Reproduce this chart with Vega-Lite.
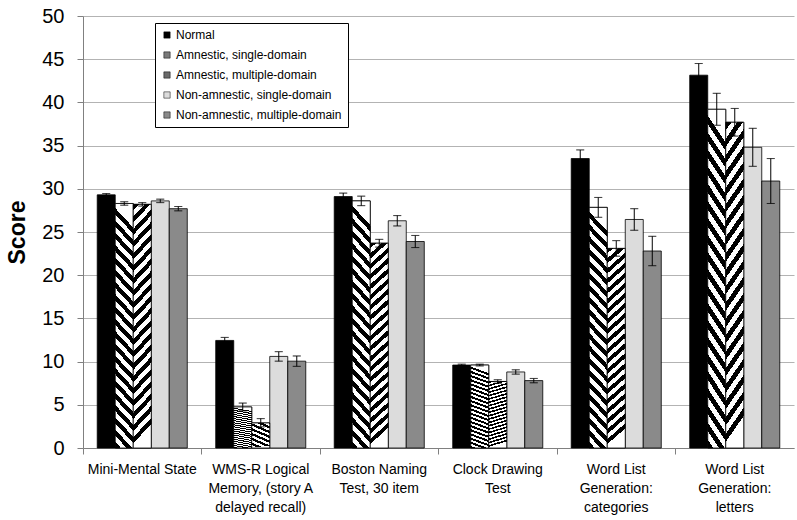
{
  "$schema": "https://vega.github.io/schema/vega-lite/v6.json",
  "width": 711,
  "height": 432,
  "autosize": {"type": "none"},
  "padding": {"left": 83, "top": 16, "right": 3, "bottom": 72},
  "background": "white",
  "config": {
    "view": {"stroke": null},
    "font": "Liberation Sans",
    "axis": {"labelFont": "Liberation Sans", "titleFont": "Liberation Sans", "labelColor": "#000", "titleColor": "#000"},
    "legend": {"labelFont": "Liberation Sans"}
  },
  "data": {
    "values": [
      {"test": "Mini-Mental State", "group": "Normal", "value": 29.3, "lo": 29.15, "hi": 29.45},
      {"test": "Mini-Mental State", "group": "Amnestic, single-domain", "value": 28.3, "lo": 28.1, "hi": 28.5},
      {"test": "Mini-Mental State", "group": "Amnestic, multiple-domain", "value": 28.2, "lo": 28.0, "hi": 28.4},
      {"test": "Mini-Mental State", "group": "Non-amnestic, single-domain", "value": 28.6, "lo": 28.4, "hi": 28.8},
      {"test": "Mini-Mental State", "group": "Non-amnestic, multiple-domain", "value": 27.7, "lo": 27.45, "hi": 27.95},
      {"test": "WMS-R Logical|Memory, (story A|delayed recall)", "group": "Normal", "value": 12.45, "lo": 12.1, "hi": 12.8},
      {"test": "WMS-R Logical|Memory, (story A|delayed recall)", "group": "Amnestic, single-domain", "value": 4.75, "lo": 4.3, "hi": 5.2},
      {"test": "WMS-R Logical|Memory, (story A|delayed recall)", "group": "Amnestic, multiple-domain", "value": 2.9, "lo": 2.45, "hi": 3.4},
      {"test": "WMS-R Logical|Memory, (story A|delayed recall)", "group": "Non-amnestic, single-domain", "value": 10.6, "lo": 10.05, "hi": 11.15},
      {"test": "WMS-R Logical|Memory, (story A|delayed recall)", "group": "Non-amnestic, multiple-domain", "value": 10.05, "lo": 9.45, "hi": 10.65},
      {"test": "Boston Naming|Test, 30 item", "group": "Normal", "value": 29.1, "lo": 28.7, "hi": 29.5},
      {"test": "Boston Naming|Test, 30 item", "group": "Amnestic, single-domain", "value": 28.6, "lo": 28.05, "hi": 29.15},
      {"test": "Boston Naming|Test, 30 item", "group": "Amnestic, multiple-domain", "value": 23.7, "lo": 23.25, "hi": 24.15},
      {"test": "Boston Naming|Test, 30 item", "group": "Non-amnestic, single-domain", "value": 26.3, "lo": 25.7, "hi": 26.9},
      {"test": "Boston Naming|Test, 30 item", "group": "Non-amnestic, multiple-domain", "value": 23.9, "lo": 23.2, "hi": 24.6},
      {"test": "Clock Drawing|Test", "group": "Normal", "value": 9.6, "lo": 9.5, "hi": 9.7},
      {"test": "Clock Drawing|Test", "group": "Amnestic, single-domain", "value": 9.6, "lo": 9.5, "hi": 9.7},
      {"test": "Clock Drawing|Test", "group": "Amnestic, multiple-domain", "value": 7.7, "lo": 7.5, "hi": 7.9},
      {"test": "Clock Drawing|Test", "group": "Non-amnestic, single-domain", "value": 8.8, "lo": 8.55, "hi": 9.05},
      {"test": "Clock Drawing|Test", "group": "Non-amnestic, multiple-domain", "value": 7.8, "lo": 7.55, "hi": 8.05},
      {"test": "Word List|Generation:|categories", "group": "Normal", "value": 33.5, "lo": 32.5, "hi": 34.5},
      {"test": "Word List|Generation:|categories", "group": "Amnestic, single-domain", "value": 27.85, "lo": 26.7, "hi": 29.0},
      {"test": "Word List|Generation:|categories", "group": "Amnestic, multiple-domain", "value": 23.1, "lo": 22.2, "hi": 24.0},
      {"test": "Word List|Generation:|categories", "group": "Non-amnestic, single-domain", "value": 26.45, "lo": 25.2, "hi": 27.7},
      {"test": "Word List|Generation:|categories", "group": "Non-amnestic, multiple-domain", "value": 22.8, "lo": 21.1, "hi": 24.5},
      {"test": "Word List|Generation:|letters", "group": "Normal", "value": 43.15, "lo": 41.8, "hi": 44.5},
      {"test": "Word List|Generation:|letters", "group": "Amnestic, single-domain", "value": 39.2, "lo": 37.35, "hi": 41.05},
      {"test": "Word List|Generation:|letters", "group": "Amnestic, multiple-domain", "value": 37.7, "lo": 36.1, "hi": 39.3},
      {"test": "Word List|Generation:|letters", "group": "Non-amnestic, single-domain", "value": 34.8, "lo": 32.6, "hi": 37.0},
      {"test": "Word List|Generation:|letters", "group": "Non-amnestic, multiple-domain", "value": 30.9, "lo": 28.3, "hi": 33.5}
    ]
  },
  "encoding": {
    "x": {
      "field": "test",
      "type": "nominal",
      "scale": {
        "domain": ["Mini-Mental State", "WMS-R Logical|Memory, (story A|delayed recall)", "Boston Naming|Test, 30 item", "Clock Drawing|Test", "Word List|Generation:|categories", "Word List|Generation:|letters"],
        "paddingInner": 0,
        "paddingOuter": 0
      },
      "axis": {
        "title": null,
        "labelAngle": 0,
        "labelFontSize": 14,
        "labelLineHeight": 19,
        "labelPadding": 8,
        "labelOverlap": false,
        "labelLimit": 300,
        "labelBound": false,
        "labelExpr": "split(datum.label, '|')",
        "bandPosition": 0,
        "tickSize": 6,
        "tickColor": "#808080",
        "domainColor": "#808080",
        "grid": false
      }
    },
    "xOffset": {
      "field": "group",
      "type": "nominal",
      "scale": {
        "domain": ["Normal", "Amnestic, single-domain", "Amnestic, multiple-domain", "Non-amnestic, single-domain", "Non-amnestic, multiple-domain"],
        "paddingInner": 0,
        "paddingOuter": 0.79
      }
    }
  },
  "layer": [
    {
      "mark": {"type": "bar", "stroke": "#000", "strokeWidth": 0.8},
      "encoding": {
        "y": {
          "field": "value",
          "type": "quantitative",
          "scale": {"domain": [0, 50], "nice": false},
          "axis": {
            "title": "Score",
            "titleFontSize": 23,
            "titleFontWeight": "bold",
            "titlePadding": 12,
            "values": [0, 5, 10, 15, 20, 25, 30, 35, 40, 45, 50],
            "labelFontSize": 20,
            "labelPadding": 13,
            "tickSize": 6,
            "tickColor": "#808080",
            "domainColor": "#808080",
            "grid": true,
            "gridColor": "#b3b3b3",
            "gridWidth": 1
          }
        },
        "color": {
          "field": "group",
          "type": "nominal",
          "scale": {
            "domain": ["Normal", "Amnestic, single-domain", "Amnestic, multiple-domain", "Non-amnestic, single-domain", "Non-amnestic, multiple-domain"],
            "range": ["#000000", "#7a7a7a", "#6a6a6a", "#dcdcdc", "#8a8a8a"]
          },
          "legend": {
            "title": null,
            "orient": "none",
            "legendX": 72,
            "legendY": 7,
            "direction": "vertical",
            "fillColor": "#ffffff",
            "strokeColor": "#000000",
            "padding": 6,
            "rowPadding": 8,
            "symbolType": "square",
            "symbolSize": 40,
            "symbolStrokeColor": "#000",
            "symbolStrokeWidth": 0.5,
            "labelFontSize": 12,
            "labelColor": "#000",
            "labelOffset": 3,
            "labelLimit": 300
          }
        }
      }
    },
    {
      "transform": [{"filter": "datum.group === 'Amnestic, single-domain'"}],
      "mark": {"type": "bar", "stroke": "#000", "strokeWidth": 0.8,
        "fill": {"gradient": "linear", "x1": 0, "y1": 1, "x2": 0.08, "y2": 0, "stops": [
          {"offset": 0, "color": "#000"}, {"offset": 0.025, "color": "#000"}, {"offset": 0.025, "color": "#fff"}, {"offset": 0.05, "color": "#fff"},
          {"offset": 0.05, "color": "#000"}, {"offset": 0.075, "color": "#000"}, {"offset": 0.075, "color": "#fff"}, {"offset": 0.1, "color": "#fff"},
          {"offset": 0.1, "color": "#000"}, {"offset": 0.125, "color": "#000"}, {"offset": 0.125, "color": "#fff"}, {"offset": 0.15, "color": "#fff"},
          {"offset": 0.15, "color": "#000"}, {"offset": 0.175, "color": "#000"}, {"offset": 0.175, "color": "#fff"}, {"offset": 0.2, "color": "#fff"},
          {"offset": 0.2, "color": "#000"}, {"offset": 0.225, "color": "#000"}, {"offset": 0.225, "color": "#fff"}, {"offset": 0.25, "color": "#fff"},
          {"offset": 0.25, "color": "#000"}, {"offset": 0.275, "color": "#000"}, {"offset": 0.275, "color": "#fff"}, {"offset": 0.3, "color": "#fff"},
          {"offset": 0.3, "color": "#000"}, {"offset": 0.325, "color": "#000"}, {"offset": 0.325, "color": "#fff"}, {"offset": 0.35, "color": "#fff"},
          {"offset": 0.35, "color": "#000"}, {"offset": 0.375, "color": "#000"}, {"offset": 0.375, "color": "#fff"}, {"offset": 0.4, "color": "#fff"},
          {"offset": 0.4, "color": "#000"}, {"offset": 0.425, "color": "#000"}, {"offset": 0.425, "color": "#fff"}, {"offset": 0.45, "color": "#fff"},
          {"offset": 0.45, "color": "#000"}, {"offset": 0.475, "color": "#000"}, {"offset": 0.475, "color": "#fff"}, {"offset": 0.5, "color": "#fff"},
          {"offset": 0.5, "color": "#000"}, {"offset": 0.525, "color": "#000"}, {"offset": 0.525, "color": "#fff"}, {"offset": 0.55, "color": "#fff"},
          {"offset": 0.55, "color": "#000"}, {"offset": 0.575, "color": "#000"}, {"offset": 0.575, "color": "#fff"}, {"offset": 0.6, "color": "#fff"},
          {"offset": 0.6, "color": "#000"}, {"offset": 0.625, "color": "#000"}, {"offset": 0.625, "color": "#fff"}, {"offset": 0.65, "color": "#fff"},
          {"offset": 0.65, "color": "#000"}, {"offset": 0.675, "color": "#000"}, {"offset": 0.675, "color": "#fff"}, {"offset": 0.7, "color": "#fff"},
          {"offset": 0.7, "color": "#000"}, {"offset": 0.725, "color": "#000"}, {"offset": 0.725, "color": "#fff"}, {"offset": 0.75, "color": "#fff"},
          {"offset": 0.75, "color": "#000"}, {"offset": 0.775, "color": "#000"}, {"offset": 0.775, "color": "#fff"}, {"offset": 0.8, "color": "#fff"},
          {"offset": 0.8, "color": "#000"}, {"offset": 0.825, "color": "#000"}, {"offset": 0.825, "color": "#fff"}, {"offset": 0.85, "color": "#fff"},
          {"offset": 0.85, "color": "#000"}, {"offset": 0.875, "color": "#000"}, {"offset": 0.875, "color": "#fff"}, {"offset": 0.9, "color": "#fff"},
          {"offset": 0.9, "color": "#000"}, {"offset": 0.925, "color": "#000"}, {"offset": 0.925, "color": "#fff"}, {"offset": 0.95, "color": "#fff"},
          {"offset": 0.95, "color": "#000"}, {"offset": 0.975, "color": "#000"}, {"offset": 0.975, "color": "#fff"}, {"offset": 1, "color": "#fff"}
        ]}},
      "encoding": {
        "y": {"field": "value", "type": "quantitative"}
      }
    },
    {
      "transform": [{"filter": "datum.group === 'Amnestic, multiple-domain'"}],
      "mark": {"type": "bar", "stroke": "#000", "strokeWidth": 0.8,
        "fill": {"gradient": "linear", "x1": 0, "y1": 0, "x2": 0.08, "y2": 1, "stops": [
          {"offset": 0, "color": "#000"}, {"offset": 0.025, "color": "#000"}, {"offset": 0.025, "color": "#fff"}, {"offset": 0.05, "color": "#fff"},
          {"offset": 0.05, "color": "#000"}, {"offset": 0.075, "color": "#000"}, {"offset": 0.075, "color": "#fff"}, {"offset": 0.1, "color": "#fff"},
          {"offset": 0.1, "color": "#000"}, {"offset": 0.125, "color": "#000"}, {"offset": 0.125, "color": "#fff"}, {"offset": 0.15, "color": "#fff"},
          {"offset": 0.15, "color": "#000"}, {"offset": 0.175, "color": "#000"}, {"offset": 0.175, "color": "#fff"}, {"offset": 0.2, "color": "#fff"},
          {"offset": 0.2, "color": "#000"}, {"offset": 0.225, "color": "#000"}, {"offset": 0.225, "color": "#fff"}, {"offset": 0.25, "color": "#fff"},
          {"offset": 0.25, "color": "#000"}, {"offset": 0.275, "color": "#000"}, {"offset": 0.275, "color": "#fff"}, {"offset": 0.3, "color": "#fff"},
          {"offset": 0.3, "color": "#000"}, {"offset": 0.325, "color": "#000"}, {"offset": 0.325, "color": "#fff"}, {"offset": 0.35, "color": "#fff"},
          {"offset": 0.35, "color": "#000"}, {"offset": 0.375, "color": "#000"}, {"offset": 0.375, "color": "#fff"}, {"offset": 0.4, "color": "#fff"},
          {"offset": 0.4, "color": "#000"}, {"offset": 0.425, "color": "#000"}, {"offset": 0.425, "color": "#fff"}, {"offset": 0.45, "color": "#fff"},
          {"offset": 0.45, "color": "#000"}, {"offset": 0.475, "color": "#000"}, {"offset": 0.475, "color": "#fff"}, {"offset": 0.5, "color": "#fff"},
          {"offset": 0.5, "color": "#000"}, {"offset": 0.525, "color": "#000"}, {"offset": 0.525, "color": "#fff"}, {"offset": 0.55, "color": "#fff"},
          {"offset": 0.55, "color": "#000"}, {"offset": 0.575, "color": "#000"}, {"offset": 0.575, "color": "#fff"}, {"offset": 0.6, "color": "#fff"},
          {"offset": 0.6, "color": "#000"}, {"offset": 0.625, "color": "#000"}, {"offset": 0.625, "color": "#fff"}, {"offset": 0.65, "color": "#fff"},
          {"offset": 0.65, "color": "#000"}, {"offset": 0.675, "color": "#000"}, {"offset": 0.675, "color": "#fff"}, {"offset": 0.7, "color": "#fff"},
          {"offset": 0.7, "color": "#000"}, {"offset": 0.725, "color": "#000"}, {"offset": 0.725, "color": "#fff"}, {"offset": 0.75, "color": "#fff"},
          {"offset": 0.75, "color": "#000"}, {"offset": 0.775, "color": "#000"}, {"offset": 0.775, "color": "#fff"}, {"offset": 0.8, "color": "#fff"},
          {"offset": 0.8, "color": "#000"}, {"offset": 0.825, "color": "#000"}, {"offset": 0.825, "color": "#fff"}, {"offset": 0.85, "color": "#fff"},
          {"offset": 0.85, "color": "#000"}, {"offset": 0.875, "color": "#000"}, {"offset": 0.875, "color": "#fff"}, {"offset": 0.9, "color": "#fff"},
          {"offset": 0.9, "color": "#000"}, {"offset": 0.925, "color": "#000"}, {"offset": 0.925, "color": "#fff"}, {"offset": 0.95, "color": "#fff"},
          {"offset": 0.95, "color": "#000"}, {"offset": 0.975, "color": "#000"}, {"offset": 0.975, "color": "#fff"}, {"offset": 1, "color": "#fff"}
        ]}},
      "encoding": {
        "y": {"field": "value", "type": "quantitative"}
      }
    },
    {
      "mark": {"type": "bar", "color": "#000", "width": 1},
      "encoding": {
        "y": {"field": "lo", "type": "quantitative"},
        "y2": {"field": "hi"}
      }
    },
    {
      "mark": {"type": "bar", "fill": "#000", "stroke": "#000", "strokeWidth": 0.5, "width": 8},
      "encoding": {
        "y": {"field": "lo", "type": "quantitative"},
        "y2": {"field": "lo"}
      }
    },
    {
      "mark": {"type": "bar", "fill": "#000", "stroke": "#000", "strokeWidth": 0.5, "width": 8},
      "encoding": {
        "y": {"field": "hi", "type": "quantitative"},
        "y2": {"field": "hi"}
      }
    }
  ]
}
